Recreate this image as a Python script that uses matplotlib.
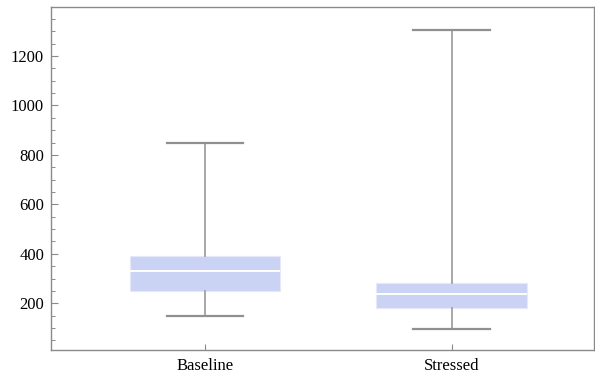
import matplotlib.pyplot as plt
from matplotlib.ticker import MultipleLocator

# box-whisker summary
labels = ["Baseline", "Stressed"]
whislo = [147, 97]
q1 = [250, 180]
med = [332, 239]
q3 = [393, 281]
whishi = [850, 1305]

plt.rcParams["font.family"] = ["Liberation Serif", "DejaVu Serif"]

fig = plt.figure(figsize=(5.95, 3.74), dpi=100)
ax = fig.add_axes([51 / 595, 24 / 374, 543 / 595, 343 / 374])

stats = []
for i, name in enumerate(labels):
    stats.append(
        {
            "label": name,
            "whislo": whislo[i],
            "q1": q1[i],
            "med": med[i],
            "q3": q3[i],
            "whishi": whishi[i],
            "fliers": [],
        }
    )

ax.bxp(
    stats,
    positions=[1, 2],
    widths=0.61,
    capwidths=0.31,
    patch_artist=True,
    showfliers=False,
    boxprops=dict(facecolor="#cbd3f5", edgecolor="#e4e8fa", linewidth=0.8),
    medianprops=dict(color="white", linewidth=1.4, solid_capstyle="butt"),
    whiskerprops=dict(color="#a0a0a0", linewidth=1.3),
    capprops=dict(color="#909090", linewidth=1.6),
)

ax.set_xlim(0.374, 2.578)
ax.set_ylim(11, 1398)
ax.yaxis.set_major_locator(MultipleLocator(200))
ax.yaxis.set_minor_locator(MultipleLocator(50))
ax.set_xticks([1, 2])
ax.set_xticklabels(labels)

for side in ax.spines.values():
    side.set_color("#8a8a8a")
    side.set_linewidth(1.0)

ax.tick_params(axis="both", which="both", direction="in", colors="#8a8a8a",
               labelcolor="black", labelsize=12)
ax.tick_params(axis="y", which="major", length=5, width=0.8, pad=5)
ax.tick_params(axis="y", which="minor", length=3, width=0.7)
ax.tick_params(axis="x", length=4, width=0.8, pad=6)
ax.tick_params(top=False, right=False, which="both")

fig.savefig("out.png", dpi=100)
